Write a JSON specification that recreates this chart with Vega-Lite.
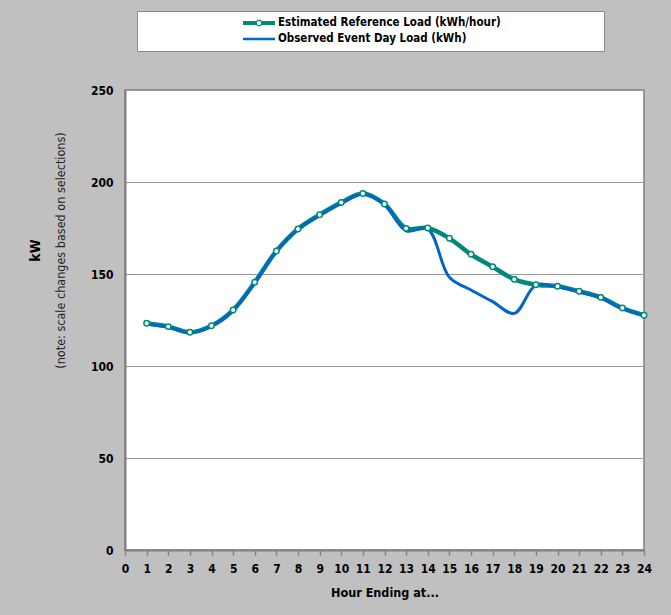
{
  "$schema": "https://vega.github.io/schema/vega-lite/v6.json",
  "width": 519,
  "height": 460,
  "autosize": {"type": "none"},
  "padding": {"left": 125, "top": 90, "right": 27, "bottom": 65},
  "background": "#c0c0c0",
  "config": {
    "view": {"stroke": "#808080", "strokeWidth": 1.5, "fill": "white"},
    "font": "DejaVu Sans Condensed, Liberation Sans, sans-serif",
    "axis": {
      "labelFont": "DejaVu Sans Condensed, Liberation Sans, sans-serif",
      "labelFontWeight": "bold",
      "labelFontSize": 12,
      "labelColor": "#000000",
      "titleFont": "DejaVu Sans Condensed, Liberation Sans, sans-serif",
      "titleColor": "#000000",
      "domainColor": "#808080",
      "domainWidth": 2
    },
    "axisX": {"labelOverlap": false, "tickCount": 30}
  },
  "data": {
    "values": [
      {"hour": 1, "series": "Estimated Reference Load (kWh/hour)", "kw": 123.2},
      {"hour": 2, "series": "Estimated Reference Load (kWh/hour)", "kw": 121.4},
      {"hour": 3, "series": "Estimated Reference Load (kWh/hour)", "kw": 118.3},
      {"hour": 4, "series": "Estimated Reference Load (kWh/hour)", "kw": 121.9},
      {"hour": 5, "series": "Estimated Reference Load (kWh/hour)", "kw": 130.4},
      {"hour": 6, "series": "Estimated Reference Load (kWh/hour)", "kw": 145.5},
      {"hour": 7, "series": "Estimated Reference Load (kWh/hour)", "kw": 162.5},
      {"hour": 8, "series": "Estimated Reference Load (kWh/hour)", "kw": 174.5},
      {"hour": 9, "series": "Estimated Reference Load (kWh/hour)", "kw": 182.2},
      {"hour": 10, "series": "Estimated Reference Load (kWh/hour)", "kw": 188.8},
      {"hour": 11, "series": "Estimated Reference Load (kWh/hour)", "kw": 193.7},
      {"hour": 12, "series": "Estimated Reference Load (kWh/hour)", "kw": 188.0},
      {"hour": 13, "series": "Estimated Reference Load (kWh/hour)", "kw": 174.8},
      {"hour": 14, "series": "Estimated Reference Load (kWh/hour)", "kw": 175.0},
      {"hour": 15, "series": "Estimated Reference Load (kWh/hour)", "kw": 169.4},
      {"hour": 16, "series": "Estimated Reference Load (kWh/hour)", "kw": 160.7},
      {"hour": 17, "series": "Estimated Reference Load (kWh/hour)", "kw": 153.9},
      {"hour": 18, "series": "Estimated Reference Load (kWh/hour)", "kw": 147.1},
      {"hour": 19, "series": "Estimated Reference Load (kWh/hour)", "kw": 144.2},
      {"hour": 20, "series": "Estimated Reference Load (kWh/hour)", "kw": 143.3},
      {"hour": 21, "series": "Estimated Reference Load (kWh/hour)", "kw": 140.6},
      {"hour": 22, "series": "Estimated Reference Load (kWh/hour)", "kw": 137.3},
      {"hour": 23, "series": "Estimated Reference Load (kWh/hour)", "kw": 131.5},
      {"hour": 24, "series": "Estimated Reference Load (kWh/hour)", "kw": 127.6},
      {"hour": 1, "series": "Observed Event Day Load (kWh)", "kw": 122.8},
      {"hour": 2, "series": "Observed Event Day Load (kWh)", "kw": 121.0},
      {"hour": 3, "series": "Observed Event Day Load (kWh)", "kw": 118.0},
      {"hour": 4, "series": "Observed Event Day Load (kWh)", "kw": 121.6},
      {"hour": 5, "series": "Observed Event Day Load (kWh)", "kw": 130.1},
      {"hour": 6, "series": "Observed Event Day Load (kWh)", "kw": 145.2},
      {"hour": 7, "series": "Observed Event Day Load (kWh)", "kw": 162.2},
      {"hour": 8, "series": "Observed Event Day Load (kWh)", "kw": 174.1},
      {"hour": 9, "series": "Observed Event Day Load (kWh)", "kw": 181.9},
      {"hour": 10, "series": "Observed Event Day Load (kWh)", "kw": 188.5},
      {"hour": 11, "series": "Observed Event Day Load (kWh)", "kw": 193.3},
      {"hour": 12, "series": "Observed Event Day Load (kWh)", "kw": 187.6},
      {"hour": 13, "series": "Observed Event Day Load (kWh)", "kw": 173.5},
      {"hour": 14, "series": "Observed Event Day Load (kWh)", "kw": 174.5},
      {"hour": 15, "series": "Observed Event Day Load (kWh)", "kw": 148.2},
      {"hour": 16, "series": "Observed Event Day Load (kWh)", "kw": 141.3},
      {"hour": 17, "series": "Observed Event Day Load (kWh)", "kw": 135.0},
      {"hour": 18, "series": "Observed Event Day Load (kWh)", "kw": 128.6},
      {"hour": 19, "series": "Observed Event Day Load (kWh)", "kw": 144.0},
      {"hour": 20, "series": "Observed Event Day Load (kWh)", "kw": 143.0},
      {"hour": 21, "series": "Observed Event Day Load (kWh)", "kw": 140.2},
      {"hour": 22, "series": "Observed Event Day Load (kWh)", "kw": 136.9},
      {"hour": 23, "series": "Observed Event Day Load (kWh)", "kw": 131.1},
      {"hour": 24, "series": "Observed Event Day Load (kWh)", "kw": 127.4}
    ]
  },
  "resolve": {"axis": {"y": "independent"}},
  "layer": [
    {
      "transform": [{"filter": "datum.series === 'Estimated Reference Load (kWh/hour)'"}],
      "mark": {"type": "line", "interpolate": "catmull-rom", "strokeWidth": 4.5},
      "encoding": {
        "x": {
          "field": "hour", "type": "quantitative",
          "scale": {"domain": [0, 24], "nice": false},
          "axis": {
            "values": [0,1,2,3,4,5,6,7,8,9,10,11,12,13,14,15,16,17,18,19,20,21,22,23,24],
            "tickCount": 30,
            "grid": false, "tickColor": "#808080", "tickSize": 5, "tickWidth": 1.5,
            "labelPadding": 8, "labelFlush": false, "labelOverlap": false,
            "title": "Hour Ending at...", "titleFontSize": 12.5, "titleFontWeight": "bold", "titlePadding": 12
          }
        },
        "y": {
          "field": "kw", "type": "quantitative",
          "scale": {"domain": [0, 250], "nice": false},
          "axis": {
            "values": [0, 50, 100, 150, 200, 250],
            "grid": true, "gridColor": "#999999", "gridWidth": 1,
            "ticks": false, "labelPadding": 12,
            "title": "(note: scale changes based on selections)",
            "titleFontSize": 12.5, "titleFontWeight": "normal", "titleColor": "#222222",
            "titleX": -58, "titleY": 160
          }
        },
        "color": {
          "field": "series", "type": "nominal",
          "scale": {
            "domain": ["Estimated Reference Load (kWh/hour)", "Observed Event Day Load (kWh)"],
            "range": ["#00897B", "#0066CC"]
          },
          "legend": {
            "orient": "none", "legendX": 12, "legendY": -79,
            "direction": "vertical", "title": null,
            "fillColor": "white", "strokeColor": "#8a8a8a", "padding": 6,
            "symbolOffset": 110, "symbolSize": 144,
            "labelFont": "DejaVu Sans Condensed, Liberation Sans, sans-serif", "labelFontSize": 11.5, "labelFontWeight": "bold",
            "labelColor": "#000000", "labelOffset": 13, "labelLimit": 600, "rowPadding": 4,
            "labelExpr": "datum.label + '\u00a0\u00a0\u00a0\u00a0\u00a0\u00a0\u00a0\u00a0\u00a0\u00a0\u00a0\u00a0\u00a0\u00a0\u00a0\u00a0\u00a0\u00a0\u00a0\u00a0\u00a0\u00a0\u00a0\u00a0\u00a0\u00a0\u00a0\u200b'",
            "encode": {
              "symbols": {
                "update": {
                  "shape": {"signal": "datum.value === 'Estimated Reference Load (kWh/hour)' ? 'M-2.667,-0.333H-0.45V0.333H-2.667Z M0.45,-0.333H2.667V0.333H0.45Z M0.583,0L0.505,0.292L0.292,0.505L0,0.583L-0.292,0.505L-0.505,0.292L-0.583,0L-0.505,-0.292L-0.292,-0.505L0,-0.583L0.292,-0.505L0.505,-0.292Z M0.367,0L0.318,-0.183L0.183,-0.318L0,-0.367L-0.183,-0.318L-0.318,-0.183L-0.367,0L-0.318,0.183L-0.183,0.318L0,0.367L0.183,0.318L0.318,0.183Z' : 'M-2.667,-0.213H2.667V0.213H-2.667Z'"},
                  "fill": {"signal": "datum.value === 'Estimated Reference Load (kWh/hour)' ? '#00897B' : '#0066CC'"},
                  "fillOpacity": {"value": 1},
                  "opacity": {"value": 1},
                  "stroke": {"value": "transparent"},
                  "strokeWidth": {"value": 0},
                  "size": {"value": 144}
                }
              }
            }
          }
        }
      }
    },
    {
      "transform": [{"filter": "datum.series === 'Observed Event Day Load (kWh)'"}],
      "mark": {"type": "line", "interpolate": "catmull-rom", "strokeWidth": 3},
      "encoding": {
        "x": {"field": "hour", "type": "quantitative"},
        "y": {
          "field": "kw", "type": "quantitative",
          "axis": {
            "orient": "left", "labels": false, "ticks": false, "domain": false, "grid": false,
            "title": "kW", "titleFontSize": 14, "titleFontWeight": "bold",
            "titleX": -83, "titleY": 160
          }
        },
        "color": {"field": "series", "type": "nominal"}
      }
    },
    {
      "transform": [{"filter": "datum.series === 'Estimated Reference Load (kWh/hour)'"}],
      "mark": {"type": "point", "shape": "circle", "filled": true, "fill": "white", "stroke": "#00897B", "strokeWidth": 1.5, "size": 30, "opacity": 1},
      "encoding": {
        "x": {"field": "hour", "type": "quantitative"},
        "y": {"field": "kw", "type": "quantitative", "axis": null}
      }
    }
  ]
}
